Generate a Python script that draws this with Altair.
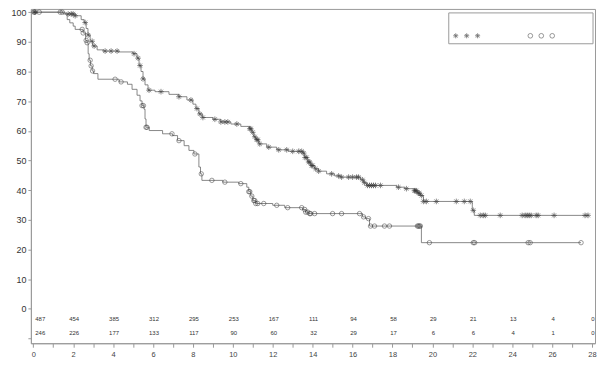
import altair as alt
import pandas as pd

# ---- Curve 1 (asterisk markers): step change points (months, % surviving)
t1 = [0, 1.6, 2.1, 2.4, 2.55, 2.65, 2.74, 2.85, 2.98, 3.2, 3.5, 4.3, 5.0, 5.2, 5.3, 5.4, 5.5, 5.6, 5.75,
      6.1, 6.8, 7.3, 7.7, 8.0, 8.15, 8.3, 8.47, 9.0, 9.4, 9.9, 10.4, 10.85, 10.95, 11.05, 11.15, 11.3,
      11.7, 12.2, 12.8, 13.5, 13.6, 13.75, 13.9, 14.1, 14.3, 14.7, 15.1, 15.4, 16.4, 16.55, 16.7,
      18.2, 18.6, 19.1, 19.25, 19.4, 19.55, 22.0, 22.1, 27.85]
s1 = [100, 99.4, 98.8, 97.5, 96.5, 94.5, 92.3, 90.2, 88.6, 87.3, 86.9, 86.6, 86.0, 84.5, 82.0, 80.0, 77.5, 75.5, 73.7,
      73.2, 72.3, 71.5, 70.4, 69.0, 67.5, 65.7, 64.5, 63.9, 63.0, 62.3, 61.5, 60.7, 59.5, 58.0, 57.0, 55.6,
      54.5, 53.6, 53.1, 52.5, 51.0, 49.5, 48.3, 47.2, 46.4, 45.5, 44.8, 44.4, 43.5, 42.5, 41.6,
      41.0, 40.5, 39.8, 39.0, 38.2, 36.2, 33.2, 31.5, 31.5]
c1 = [0.05, 0.1, 1.75, 1.9, 2.0, 2.1, 2.6, 2.75, 2.95, 3.05, 3.6, 3.9, 4.2, 5.05, 5.25, 5.35, 5.5, 5.8, 6.4,
      7.3, 7.9, 8.2, 8.35, 8.5, 9.1, 9.4, 9.6, 9.75, 10.2, 10.85, 10.9, 11.0, 11.1, 11.2, 11.25, 11.35,
      11.8, 12.3, 12.7, 13.0, 13.3, 13.45, 13.55, 13.62, 13.7, 13.8, 13.85, 13.95, 14.0, 14.15, 14.3,
      14.95, 15.3, 15.45, 15.8, 16.0, 16.2, 16.3, 16.5, 16.6, 16.75, 16.85, 16.95, 17.05, 17.15, 17.4,
      18.3, 18.7, 19.1, 19.15, 19.2, 19.3, 19.35, 19.45, 19.55, 19.7, 20.2, 21.2, 21.6, 21.9, 22.05,
      22.4, 22.55, 22.65, 23.4, 24.5, 24.65, 24.75, 24.85, 24.95, 25.2, 25.3, 26.1, 27.65, 27.8]

# ---- Curve 2 (circle markers)
t2 = [0, 1.5, 1.7, 1.83, 2.0, 2.1, 2.5, 2.62, 2.69, 2.75, 2.8, 2.87, 2.95, 3.02, 3.24, 4.3, 4.72, 4.95,
      5.2, 5.35, 5.45, 5.55, 5.6, 5.65, 5.81, 6.48, 6.98, 7.23, 7.56, 7.8, 8.05, 8.3, 8.38, 8.45, 9.5,
      10.3, 10.7, 10.8, 10.9, 11.0, 11.15, 12.0, 12.6, 13.5, 13.65, 13.8, 16.5, 16.65, 16.85, 19.45, 27.45]
s2 = [100, 99.4, 97.5, 96.4, 95.3, 94.2, 93.0, 90.5, 89.7, 86.0, 83.8, 81.9, 80.2, 79.3, 77.4, 76.5, 75.7, 74.0,
      72.0, 70.1, 68.5, 67.3, 64.0, 61.2, 60.1, 59.0, 58.4, 56.7, 55.0, 53.4, 52.2, 47.8, 45.5, 43.3, 42.7,
      42.2, 41.0, 39.5, 38.0, 36.5, 35.5, 34.9, 34.1, 33.5, 32.6, 32.1, 31.0, 30.4, 27.9, 22.3, 22.3]
c2 = [0.05, 0.3, 1.35, 1.45, 2.45, 2.5, 2.65, 2.7, 2.85, 2.9, 2.97, 4.1, 4.4, 5.45, 5.52, 5.65, 5.7, 6.95,
      7.3, 8.1, 8.42, 8.95, 9.6, 10.4, 10.8, 10.85, 10.95, 11.05, 11.1, 11.15, 11.25, 11.55, 12.2, 12.75,
      13.45, 13.6, 13.65, 13.75, 13.85, 13.9, 14.1, 15.0, 15.45, 16.35, 16.55, 16.8, 16.9, 17.1, 17.6,
      17.85, 19.25, 19.3, 19.35, 19.4, 19.85, 22.05, 22.12, 24.8, 24.9, 27.45]

# ---- Number at risk
risk_months = [0, 2, 4, 6, 8, 10, 12, 14, 16, 18, 20, 22, 24, 26, 28]
risk1 = [487, 454, 385, 312, 295, 253, 167, 111, 94, 58, 29, 21, 13, 4, 0]
risk2 = [246, 226, 177, 133, 117, 90, 60, 32, 29, 17, 6, 6, 4, 1, 0]

# ---- Axis ticks
x_ticks = list(range(0, 29))
y_ticks = list(range(-10, 101, 10))

LINE = "#6a6a6a"
MARK = "#333333"
ASTERISK = "M-1,0L1,0M0,-1L0,1M-0.7,-0.7L0.7,0.7M-0.7,0.7L0.7,-0.7"

curve1 = pd.DataFrame({"t": t1, "s": s1, "g": "A"})
curve2 = pd.DataFrame({"t": t2, "s": s2, "g": "B"})
curves = pd.concat([curve1, curve2], ignore_index=True)


def censor_points(times, curve):
    cdf = pd.DataFrame({"t": sorted(times)})
    return pd.merge_asof(cdf, curve[["t", "s"]].sort_values("t"), on="t", direction="backward")


cens1 = censor_points(c1, curve1)
cens2 = censor_points(c2, curve2)

risk = pd.concat([
    pd.DataFrame({"t": risk_months, "s": risk1, "row": -3.3}),
    pd.DataFrame({"t": risk_months, "s": risk2, "row": -8.0}),
], ignore_index=True).rename(columns={"s": "n"})

xscale = alt.Scale(domain=[-0.12, 28.15], nice=False, zero=False)
yscale = alt.Scale(domain=[-11.6, 101.1], nice=False, zero=False)

x_axis = alt.Axis(values=x_ticks, labelExpr="datum.value % 2 == 0 ? datum.label : ''",
                  tickSize=4, labelFontSize=7.5, labelColor="#444", domainColor="#999",
                  tickColor="#999", grid=False, title=None, labelPadding=3, labelFlush=False,
                  labelOverlap=False)
y_axis = alt.Axis(values=y_ticks, labelExpr="datum.value < 0 ? '' : datum.label",
                  tickSize=3, labelFontSize=9, labelColor="#333", domainColor="#999",
                  tickColor="#999", grid=False, title=None, labelPadding=2, labelOverlap=False,
                  labelFlush=False)

X = alt.X("t:Q", scale=xscale, axis=x_axis)
Y = alt.Y("s:Q", scale=yscale, axis=y_axis)

lines = alt.Chart(curves).mark_line(interpolate="step-after", color=LINE, strokeWidth=0.8).encode(
    x=X, y=Y, detail="g:N")

stars = alt.Chart(cens1).mark_point(shape=ASTERISK, filled=False, color=MARK, size=32, strokeWidth=0.8).encode(
    x=X, y=Y)
circles = alt.Chart(cens2).mark_point(shape="circle", filled=False, color=MARK, size=20, strokeWidth=0.7).encode(
    x=X, y=Y)

risk_first = alt.Chart(risk).transform_filter("datum.t == 0").mark_text(
    align="left", dx=2, fontSize=6, color="#333").encode(
    x=X, y=alt.Y("row:Q", scale=yscale, axis=y_axis), text="n:Q")
risk_rest = alt.Chart(risk).transform_filter("datum.t > 0").mark_text(
    align="center", dx=1, fontSize=6, color="#333").encode(
    x=X, y=alt.Y("row:Q", scale=yscale, axis=y_axis), text="n:Q")

# legend box (labels absent in the original)
legend_box = alt.Chart(pd.DataFrame({"a": [0]})).mark_rect(fill="white", stroke="#999", strokeWidth=1).encode(
    x=alt.value(420), x2=alt.value(565), y=alt.value(4), y2=alt.value(35))
leg_star = alt.Chart(pd.DataFrame({"px": [427, 438, 449], "py": [27, 27, 27]})).mark_point(
    shape=ASTERISK, filled=False, color=MARK, size=26, strokeWidth=0.8).encode(
    x=alt.X("px:Q", scale=None), y=alt.Y("py:Q", scale=None))
leg_circ = alt.Chart(pd.DataFrame({"px": [502, 513, 524], "py": [27, 27, 27]})).mark_point(
    shape="circle", filled=False, color=MARK, size=22, strokeWidth=0.7).encode(
    x=alt.X("px:Q", scale=None), y=alt.Y("py:Q", scale=None))

chart = alt.layer(lines, stars, circles, risk_first, risk_rest, legend_box, leg_star, leg_circ).properties(
    width=567, height=336,
    autosize=alt.AutoSizeParams(type="none"),
    padding={"left": 23, "top": 0, "right": 2, "bottom": 30},
).configure(font="Liberation Sans").configure_view(stroke="#999", strokeWidth=1).configure_axis(
    labelOverlap=False)

chart.save("out.html", embed_options={"renderer": "svg", "actions": False})
